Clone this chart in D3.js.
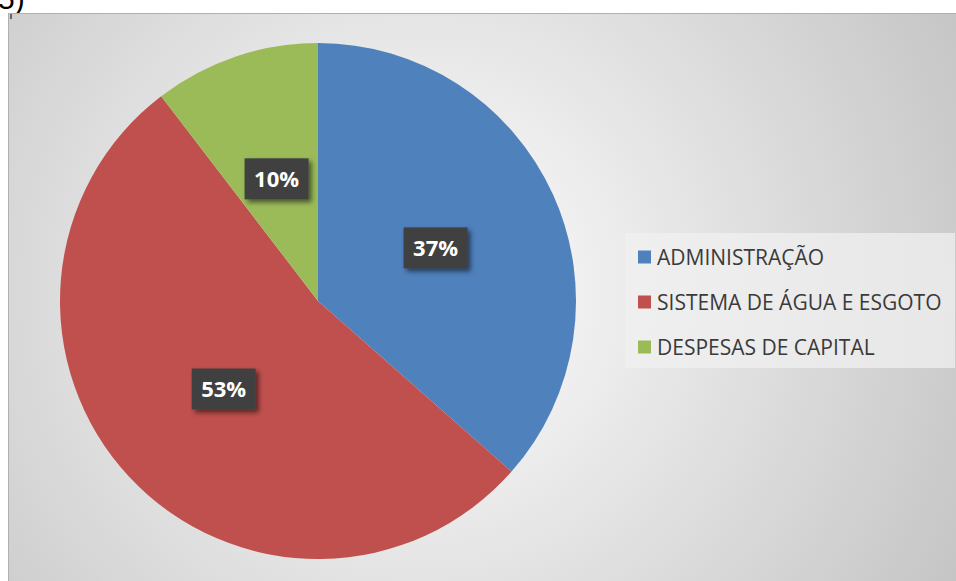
<!DOCTYPE html>
<meta charset="utf-8">
<script src="https://d3js.org/d3.v7.min.js"></script>
<style>
  body { margin: 0; background: #fff; overflow: hidden; }
</style>
<div id="chart"></div>
<script>
// dados
const categorias = ["ADMINISTRAÇÃO", "SISTEMA DE ÁGUA E ESGOTO", "DESPESAS DE CAPITAL"];
const valores = [36.5, 53.1, 10.4];
const cores = ["#4F81BD", "#C0504D", "#9BBB59"];

const W = 956, H = 581;
const cx = 318, cy = 301, r = 258;

const svg = d3.select("#chart").append("svg")
  .attr("width", W).attr("height", H)
  .style("font-family", "'Open Sans', 'Noto Sans', sans-serif");

const defs = svg.append("defs");
const grad = defs.append("radialGradient").attr("id", "bg")
  .attr("gradientUnits", "userSpaceOnUse")
  .attr("cx", 420).attr("cy", 290).attr("r", 620);
grad.append("stop").attr("offset", "0%").attr("stop-color", "#ffffff");
grad.append("stop").attr("offset", "100%").attr("stop-color", "#c4c4c4");

const sh = defs.append("filter").attr("id", "shadow")
  .attr("x", "-30%").attr("y", "-30%").attr("width", "170%").attr("height", "170%");
sh.append("feDropShadow").attr("dx", 3).attr("dy", 3).attr("stdDeviation", 2.5)
  .attr("flood-color", "#000").attr("flood-opacity", 0.55);

// texto cortado no topo
svg.append("text").attr("x", -2).attr("y", 9)
  .attr("font-family", "Arial, 'Liberation Sans', sans-serif")
  .attr("font-size", 30).attr("fill", "#000").text("5)");

// area do grafico
svg.append("rect")
  .attr("x", 8.5).attr("y", 13.5).attr("width", 960).attr("height", 580)
  .attr("fill", "url(#bg)").attr("stroke", "#b0b0b0");

svg.append("line").attr("x1", 11).attr("x2", 11).attr("y1", 14).attr("y2", 19)
  .attr("stroke", "#000").attr("stroke-width", 1);

const pie = d3.pie().sort(null).value(d => d);
const arcs = pie(valores);
const arc = d3.arc().innerRadius(0).outerRadius(r);
const labelArc = d3.arc().innerRadius(r * 0.5).outerRadius(r * 0.5);

const g = svg.append("g").attr("transform", `translate(${cx},${cy})`);

g.selectAll("path.fatia")
  .data(arcs)
  .enter().append("path")
    .attr("class", "fatia")
    .attr("d", arc)
    .attr("fill", (d, i) => cores[i]);

// rotulos de percentagem
const total = d3.sum(valores);
const rot = g.selectAll("g.rot")
  .data(arcs)
  .enter().append("g")
    .attr("class", "rot")
    .attr("transform", d => `translate(${labelArc.centroid(d)})`);

rot.append("rect")
  .attr("x", -32).attr("y", -20.5).attr("width", 64).attr("height", 41)
  .attr("fill", "#404040")
  .attr("filter", "url(#shadow)");

rot.append("text")
  .attr("text-anchor", "middle").attr("dy", "0.36em")
  .attr("font-size", 22).attr("font-weight", "bold").attr("fill", "#fff")
  .text(d => Math.round(d.value / total * 100) + "%");

// legenda
const leg = svg.append("g");
leg.append("rect")
  .attr("x", 625).attr("y", 233).attr("width", 330).attr("height", 135)
  .attr("fill", "#f0f0f0").attr("opacity", 0.75);

const ly = d3.scalePoint().domain(categorias).range([257, 347]);
const item = leg.selectAll("g.item")
  .data(categorias)
  .enter().append("g")
    .attr("class", "item")
    .attr("transform", d => `translate(638,${ly(d)})`);

item.append("rect")
  .attr("x", 0).attr("y", -6.5).attr("width", 13).attr("height", 13)
  .attr("fill", (d, i) => cores[i]);

item.append("text")
  .attr("x", 19).attr("dy", "0.36em")
  .attr("font-size", 21).attr("fill", "#3a3a3a")
  .text(d => d);
</script>
